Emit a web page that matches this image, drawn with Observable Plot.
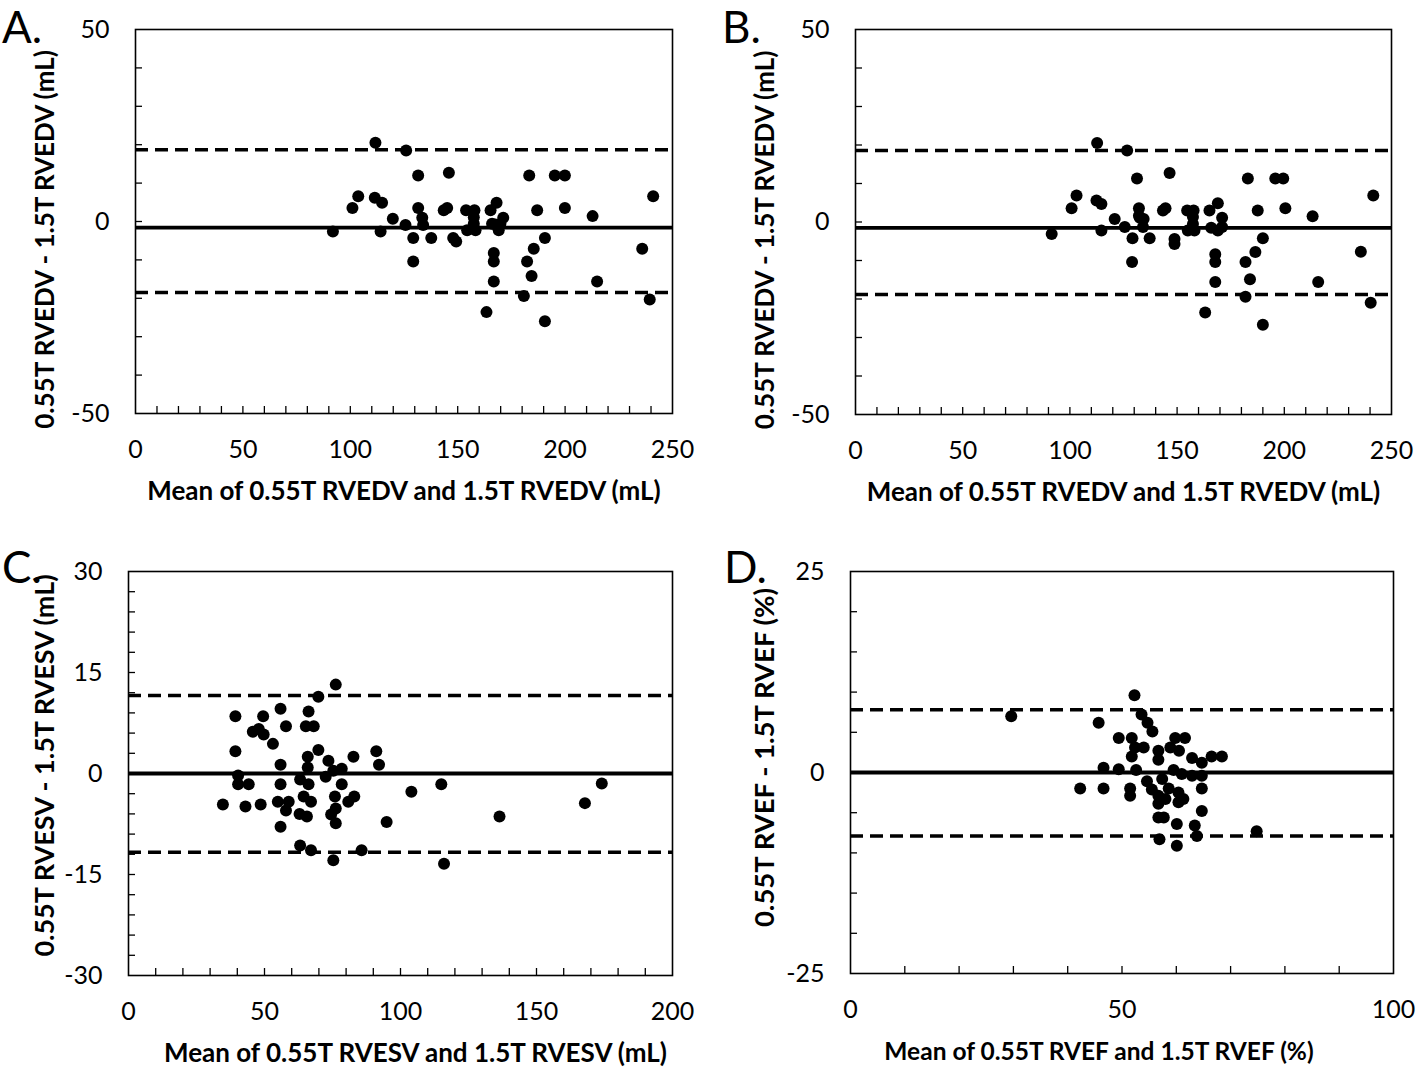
<!DOCTYPE html>
<html>
<head>
<meta charset="utf-8">
<script src="https://cdn.jsdelivr.net/npm/d3@7"></script>
<script src="https://cdn.jsdelivr.net/npm/@observablehq/plot@0.6"></script>
<style>
  html, body { margin: 0; padding: 0; background: #fff; }
  #root { position: relative; width: 1418px; height: 1075px; background: #fff; font-family: Lato, "Open Sans", sans-serif; overflow: hidden; }
  .panel { position: absolute; }
  .letter { position: absolute; font-family: Lato, sans-serif; font-size: 44px; color: #000; line-height: 1.2; }
</style>
</head>
<body>
<div id="root"></div>
<script>
// ---------- DATA ----------
// Panel A: RVEDV (mL)
const aMean = [111.7,126.0,131.6,145.9,183.3,195.2,199.9,103.7,111.4,114.8,101.0,241.0,119.8,131.6,143.5,145.1,153.9,157.8,165.3,168.1,171.2,187.0,199.9,212.8,133.5,133.9,125.7,91.9,114.1,129.3,137.7,147.9,149.3,154.4,157.5,158.3,166.0,169.1,169.9,190.6,185.4,166.8,166.8,129.3,182.3,184.4,166.8,214.9,235.9,180.8,239.4,163.4,190.6,157.5,167.6];
const aDiff = [20.5,18.5,12.0,12.7,12.0,12.0,12.0,6.6,6.2,4.9,3.5,6.6,0.7,3.5,2.9,3.5,2.9,2.9,2.9,4.9,1.0,2.9,3.5,1.4,1.0,-0.9,-0.9,-2.6,-2.6,-4.3,-4.3,-4.3,-5.2,-2.3,-0.6,-2.3,-0.6,-2.3,-0.6,-4.3,-7.1,-8.2,-10.4,-10.4,-10.4,-14.2,-15.6,-15.6,-7.1,-19.4,-20.3,-23.6,-26.0,1.1,-0.8];
const aLines = {bias: -1.6, upper: 18.7, lower: -18.5};

// Panel B: RVEDV (mL)
const bMean = [112.7,126.7,131.3,146.5,183.0,195.8,199.5,103.1,112.4,114.7,100.8,241.5,120.9,132.2,143.4,144.6,154.7,157.7,165.1,169.0,171.0,187.6,200.5,213.2,132.6,134.4,125.6,91.5,114.7,129.2,137.2,148.8,148.8,155.0,157.4,158.1,165.9,169.0,171.0,190.0,186.5,167.8,167.8,129.0,181.9,184.0,167.8,215.8,235.7,181.9,240.3,163.1,190.0,132.2,134.1,157.4];
const bDiff = [20.5,18.6,11.3,12.7,11.3,11.3,11.3,6.9,5.6,4.7,3.6,6.9,0.8,3.6,3.0,3.6,3.0,3.0,3.0,4.9,1.1,3.0,3.6,1.5,1.1,0.8,-1.3,-3.1,-2.2,-4.2,-4.2,-4.4,-5.7,-2.2,-0.5,-2.2,-1.5,-2.2,-1.3,-4.2,-7.8,-8.4,-10.4,-10.4,-10.4,-14.9,-15.6,-15.6,-7.7,-19.4,-21.0,-23.5,-26.7,1.6,-1.3,1.3];
const bLines = {bias: -1.5, upper: 18.6, lower: -18.8};

// Panel C: RVESV (mL)
const cMean = [76.2,69.8,39.3,49.5,55.9,66.2,57.9,65.2,68.1,45.7,47.9,49.7,53.1,39.3,69.8,91.1,82.7,92.1,55.9,65.9,73.5,65.9,78.4,40.3,40.3,44.2,55.9,63.1,66.2,72.5,75.3,78.4,64.4,75.9,80.8,83.0,104.0,115.0,34.7,43.0,48.6,54.9,58.9,57.9,67.1,62.9,65.6,74.5,76.2,76.2,55.9,94.9,63.1,67.1,85.7,75.3,116.0,136.4,167.8,174.0];
const cDiff = [13.2,11.4,8.5,8.5,9.6,9.2,7.0,7.0,7.0,6.2,6.6,5.8,4.4,3.3,3.5,3.3,2.5,1.3,1.3,2.5,1.9,0.9,0.7,-0.3,-1.6,-1.6,-1.6,-0.9,-1.6,-0.5,0.4,-1.6,-3.4,-3.4,-4.2,-3.4,-2.7,-1.6,-4.6,-4.9,-4.6,-4.2,-4.2,-5.5,-4.2,-6.0,-6.4,-6.1,-5.2,-7.4,-7.9,-7.2,-10.7,-11.4,-11.4,-12.9,-13.4,-6.4,-4.4,-1.5];
const cLines = {bias: 0, upper: 11.6, lower: -11.7};

// Panel D: RVEF (%)
const dMean = [52.3,29.6,45.7,53.6,54.7,55.6,49.4,51.8,59.8,61.6,52.4,54.0,56.7,58.9,60.5,51.8,56.7,62.9,66.5,68.4,64.7,46.6,49.4,52.6,59.5,61.0,62.9,64.7,54.6,57.4,42.3,46.6,51.5,55.5,58.6,64.7,51.5,56.7,60.4,56.7,58.0,60.4,61.3,64.7,56.7,57.7,60.1,63.4,63.8,56.9,60.1,74.8];
const dDiff = [9.6,7.0,6.2,7.2,6.2,5.1,4.3,4.3,4.3,4.3,3.1,3.1,2.7,3.1,2.7,2.0,1.6,1.8,2.0,2.0,1.2,0.6,0.4,0.3,0.3,-0.2,-0.4,-0.4,-1.1,-0.8,-2.0,-2.0,-2.0,-2.1,-2.0,-2.0,-2.9,-2.9,-2.5,-3.9,-3.3,-3.7,-3.3,-4.8,-5.6,-5.6,-6.4,-6.6,-7.9,-8.3,-9.1,-7.3];
const dLines = {bias: 0, upper: 7.8, lower: -7.9};

// Tick labels
const edvXTicks = [0, 50, 100, 150, 200, 250];
const edvYTicks = [-50, 0, 50];
const esvXTicks = [0, 50, 100, 150, 200];
const esvYTicks = [-30, -15, 0, 15, 30];
const efXTicks = [0, 50, 100];
const efYTicks = [-25, 0, 25];

// Titles
const titles = {
  A: {x: "Mean of 0.55T RVEDV and 1.5T RVEDV (mL)", y: "0.55T RVEDV - 1.5T RVEDV (mL)"},
  B: {x: "Mean of 0.55T RVEDV and 1.5T RVEDV (mL)", y: "0.55T RVEDV - 1.5T RVEDV (mL)"},
  C: {x: "Mean of 0.55T RVESV and 1.5T RVESV (mL)", y: "0.55T RVESV - 1.5T RVESV (mL)"},
  D: {x: "Mean of 0.55T RVEF and 1.5T RVEF (%)", y: "0.55T RVEF - 1.5T RVEF (%)"}
};

// ---------- DRAW ----------
const root = document.getElementById("root");
const FONT = "Lato, 'Open Sans', sans-serif";

function range(a, b, step) {
  const out = [];
  for (let v = a + step; v < b - 1e-9; v += step) out.push(+v.toFixed(6));
  return out;
}

function panel(opts) {
  const {left, top, width, height, margin, xDomain, yDomain, xTicks, yTicks, xMinor, yMinor,
         means, diffs, lines, title, xTitleDx, yTitleDy, yTitleDx, xTitleSize, yTitleSize} = opts;
  const pts = means.map((m, i) => ({m, d: diffs[i]}));
  const plotW = width - margin.left - margin.right;
  const plotH = height - margin.top - margin.bottom;
  const svg = Plot.plot({
    width, height,
    marginLeft: margin.left, marginRight: margin.right, marginTop: margin.top, marginBottom: margin.bottom,
    style: {fontFamily: FONT, background: "white", color: "black", overflow: "visible"},
    x: {domain: xDomain},
    y: {domain: yDomain},
    marks: [
      Plot.axisX({ticks: xTicks, tickSize: 0, tickPadding: 27, fontSize: 25, tickFormat: d => String(d), label: null}),
      Plot.axisY({ticks: yTicks, tickSize: 0, tickPadding: 26, fontSize: 25, tickFormat: d => String(d), label: null}),
      Plot.tickX(range(xDomain[0], xDomain[1], xMinor), {x: d => d, insetTop: plotH - 7, stroke: "black", strokeWidth: 1.3}),
      Plot.tickY(range(yDomain[0], yDomain[1], yMinor), {y: d => d, insetRight: plotW - 7, stroke: "black", strokeWidth: 1.3}),
      Plot.ruleY([lines.upper, lines.lower], {stroke: "black", strokeWidth: 3.5, strokeDasharray: "13,7"}),
      Plot.ruleY([lines.bias], {stroke: "black", strokeWidth: 3.8}),
      Plot.dot(pts, {x: "m", y: "d", r: 6, fill: "black", stroke: null}),
      Plot.frame({stroke: "black", strokeWidth: 1.6}),
      Plot.text([title.x], {frameAnchor: "bottom", dy: 86, dx: xTitleDx, fontSize: xTitleSize, fontWeight: "bold", fill: "black", textAnchor: "middle", text: d => d}),
      Plot.text([title.y], {frameAnchor: "left", dx: yTitleDx, dy: yTitleDy, rotate: -90, fontSize: yTitleSize, fontWeight: "bold", fill: "black", textAnchor: "middle", text: d => d})
    ]
  });
  const wrap = document.createElement("div");
  wrap.className = "panel";
  wrap.style.left = left + "px";
  wrap.style.top = top + "px";
  wrap.appendChild(svg);
  root.appendChild(wrap);
}

panel({left: 0, top: 0, width: 710, height: 530,
  margin: {left: 135, right: 38, top: 29, bottom: 117},
  xDomain: [0, 250], yDomain: [-50, 50], xTicks: edvXTicks, yTicks: edvYTicks, xMinor: 10, yMinor: 10,
  means: aMean, diffs: aDiff, lines: aLines, title: titles.A, xTitleDx: 0, yTitleDy: 18, yTitleDx: -90, xTitleSize: 26, yTitleSize: 26});

panel({left: 720, top: 0, width: 698, height: 530,
  margin: {left: 135, right: 27, top: 29, bottom: 116},
  xDomain: [0, 250], yDomain: [-50, 50], xTicks: edvXTicks, yTicks: edvYTicks, xMinor: 10, yMinor: 10,
  means: bMean, diffs: bDiff, lines: bLines, title: titles.B, xTitleDx: 0, yTitleDy: 18, yTitleDx: -90, xTitleSize: 26, yTitleSize: 26});

panel({left: 0, top: 540, width: 710, height: 535,
  margin: {left: 128, right: 38, top: 31, bottom: 100},
  xDomain: [0, 200], yDomain: [-30, 30], xTicks: esvXTicks, yTicks: esvYTicks, xMinor: 10, yMinor: 3,
  means: cMean, diffs: cDiff, lines: cLines, title: titles.C, xTitleDx: 15, yTitleDy: -8, yTitleDx: -83, xTitleSize: 26, yTitleSize: 27});

panel({left: 720, top: 540, width: 698, height: 535,
  margin: {left: 130, right: 25, top: 31, bottom: 102},
  xDomain: [0, 100], yDomain: [-25, 25], xTicks: efXTicks, yTicks: efYTicks, xMinor: 10, yMinor: 5,
  means: dMean, diffs: dDiff, lines: dLines, title: titles.D, xTitleDx: -23, yTitleDy: -15, yTitleDx: -85, xTitleSize: 24.5, yTitleSize: 27.5});

// Panel letters
[["A.", 2, 0], ["B.", 722, 0], ["C.", 2, 540], ["D.", 724, 540]].forEach(([t, x, y]) => {
  const el = document.createElement("div");
  el.className = "letter";
  el.textContent = t;
  el.style.left = x + "px";
  el.style.top = y + "px";
  root.appendChild(el);
});
</script>
</body>
</html>
